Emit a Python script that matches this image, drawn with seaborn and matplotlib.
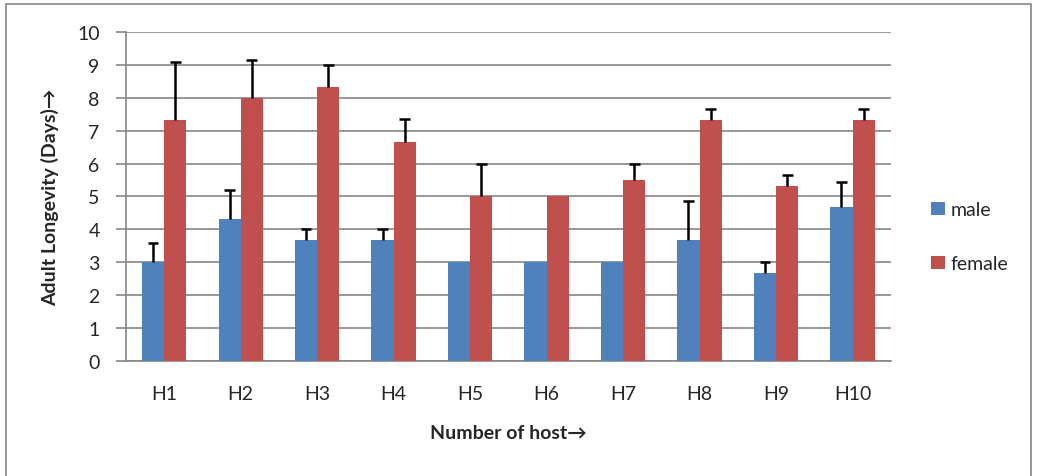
import numpy as np
import pandas as pd
import matplotlib
matplotlib.use("Agg")
import matplotlib.pyplot as plt
import seaborn as sns
from matplotlib.patches import Rectangle

# ==========================================
# Data
# ==========================================
hosts = ["H1", "H2", "H3", "H4", "H5", "H6", "H7", "H8", "H9", "H10"]
male = [3.0, 4.33, 3.67, 3.67, 3.0, 3.0, 3.0, 3.67, 2.67, 4.67]
female = [7.33, 8.0, 8.33, 6.67, 5.0, 5.0, 5.5, 7.33, 5.33, 7.33]
male_err = [0.58, 0.87, 0.33, 0.33, 0.0, 0.0, 0.0, 1.2, 0.33, 0.78]
female_err = [1.76, 1.16, 0.67, 0.67, 1.0, 0.0, 0.5, 0.33, 0.33, 0.33]

df = pd.DataFrame({
    "host": hosts * 2,
    "sex": ["male"] * len(hosts) + ["female"] * len(hosts),
    "days": male + female,
})

sns.set_style("white")
plt.rcParams["font.family"] = ["Lato", "DejaVu Sans"]

grey = "#868686"

fig = plt.figure(figsize=(10.37, 4.77), dpi=100)
ax = fig.add_axes([0.1215, 0.241, 0.7375, 0.69])

# outer chart border
fig.patches.append(Rectangle((0.006, -0.02), 0.988, 1.01, transform=fig.transFigure,
                             fill=False, edgecolor=grey, linewidth=1.2))

ax = sns.barplot(data=df, x="host", y="days", hue="sex",
                 palette=["#4F81BD", "#C0504D"], width=0.58,
                 errorbar=None, ax=ax, zorder=3, saturation=1,
                 edgecolor="none")

# Error bars (plus direction only, cap on top)
cap = 0.07
for container, err in zip(ax.containers, [male_err, female_err]):
    for p, e in zip(container.patches, err):
        if e <= 0:
            continue
        xc = p.get_x() + p.get_width() / 2
        top = p.get_height()
        ax.vlines(xc, top, top + e, color="black", linewidth=1.8, zorder=4)
        ax.hlines(top + e, xc - cap, xc + cap, color="black", linewidth=1.8, zorder=4)

ax.set_ylim(0, 10)
ax.set_xlim(-0.5, 9.5)
ax.set_yticks(range(0, 11))
ax.yaxis.grid(True, color=grey, linewidth=1.2, zorder=0)
ax.set_axisbelow(True)

for s in ["top", "right"]:
    ax.spines[s].set_visible(False)
for s in ["left", "bottom"]:
    ax.spines[s].set_color(grey)
    ax.spines[s].set_linewidth(1.2)

ax.set_xticks(np.arange(-0.5, 10, 1), minor=True)
ax.tick_params(axis="x", which="major", length=0, labelsize=14, pad=17)
ax.tick_params(axis="x", which="minor", length=6, color=grey, width=1.2)
ax.tick_params(axis="y", length=7, color=grey, width=1.2, labelsize=14, pad=12, left=True)

ax.set_xlabel("Number of host\u2192", fontsize=14, fontweight="bold", labelpad=16)
ax.set_ylabel("Adult Longevity (Days)\u2192", fontsize=14, fontweight="bold", labelpad=13)

leg = ax.legend(loc="center left", bbox_to_anchor=(1.03, 0.377), frameon=False,
                fontsize=14, handlelength=0.7, handleheight=0.7,
                handletextpad=0.3, labelspacing=1.9)

fig.savefig("out.png", dpi=100)
